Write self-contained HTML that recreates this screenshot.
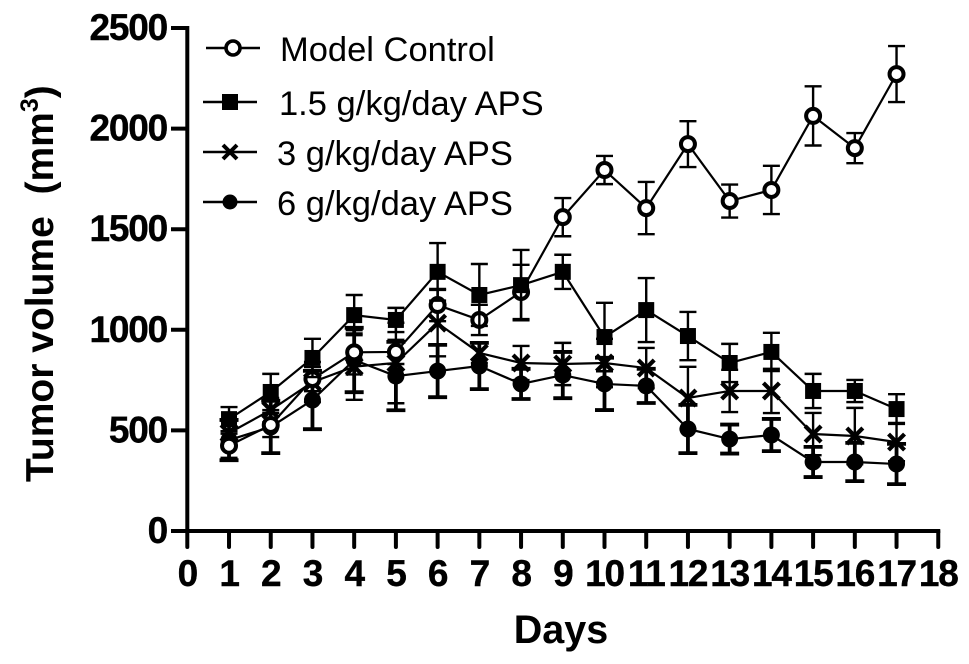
<!DOCTYPE html>
<html>
<head>
<meta charset="utf-8">
<title>Tumor volume chart</title>
<style>
html,body{margin:0;padding:0;background:#fff;width:969px;height:664px;overflow:hidden}
svg{display:block;font-family:"Liberation Sans",Arial,sans-serif}
.tick{font-weight:700;font-size:37px;letter-spacing:-1.2px;fill:#000;stroke:#000;stroke-width:.4px}
.leg{font-size:34.5px;fill:#000}
</style>
</head>
<body>
<svg id="chart" width="969" height="664" viewBox="0 0 969 664" xmlns="http://www.w3.org/2000/svg">
  <rect width="969" height="664" fill="#fff"/>
  <g id="axes"></g>
  <g id="series"></g>
  <text transform="translate(53,482) rotate(-90)" font-size="39" font-weight="700" xml:space="preserve">Tumor volume  (mm<tspan font-size="25" dy="-15">3</tspan><tspan dy="15">)</tspan></text>
  <text x="561" y="643" text-anchor="middle" font-size="39.5" font-weight="700">Days</text>
  <g stroke="#000" stroke-width="2.4">
    <g>
      <line x1="206" x2="260" y1="48" y2="48"/>
      <circle cx="233" cy="48" r="7" fill="#fff" stroke-width="3.6"/>
      <text class="leg" x="280" y="61" stroke="none">Model Control</text>
    </g>
    <g>
      <line x1="203" x2="257" y1="102" y2="102"/>
      <rect x="222" y="94" width="16" height="16" fill="#000" stroke="none"/>
      <text class="leg" x="279" y="115" stroke="none">1.5 g/kg/day APS</text>
    </g>
    <g>
      <line x1="203" x2="257" y1="152" y2="152"/>
      <path d="M223 145L237 159M237 145L223 159" fill="none" stroke-width="4"/>
      <text class="leg" x="277" y="165" stroke="none">3 g/kg/day APS</text>
    </g>
    <g>
      <line x1="203" x2="257" y1="202" y2="202"/>
      <circle cx="230" cy="202" r="7.5" fill="#000" stroke="none"/>
      <text class="leg" x="277" y="215" stroke="none">6 g/kg/day APS</text>
    </g>
  </g>
</svg>
<script>
const days = [1,2,3,4,5,6,7,8,9,10,11,12,13,14,15,16,17];
const xTicks = [0,1,2,3,4,5,6,7,8,9,10,11,12,13,14,15,16,17,18];
const yTicks = [0,500,1000,1500,2000,2500];
const modelValues = [424,527,755,888,890,1123,1049,1188,1560,1794,1605,1923,1640,1695,2063,1903,2271];
const modelErrors = [60,60,60,110,60,80,75,135,95,70,130,114,82,120,147,75,139];
const lowValues = [556,691,860,1073,1049,1288,1173,1222,1288,964,1098,969,835,890,696,696,606];
const lowErrors = [60,90,95,100,60,143,154,175,85,170,159,120,95,95,85,55,74];
const midValues = [487,601,740,817,835,1033,885,835,830,835,810,661,696,696,482,472,442];
const midErrors = [60,60,100,165,200,165,50,85,105,120,100,155,105,110,105,140,95];
const highValues = [452,517,651,850,770,795,820,731,775,731,721,507,457,477,343,343,333];
const highErrors = [100,130,145,160,170,130,115,75,115,130,85,120,72,80,75,95,100];

const NS = 'http://www.w3.org/2000/svg';
const xScale = d => 187.3 + d * 41.72;
const yScale = v => 531 - v * 0.2012;
function make(tag, parent, attrs) {
  const el = document.createElementNS(NS, tag);
  for (const k in attrs) el.setAttribute(k, attrs[k]);
  parent.appendChild(el);
  return el;
}
const axes = document.getElementById('axes');
const yAxisLine = make('line', axes, {x1: xScale(0), x2: xScale(0), y1: yScale(2500) - 2, y2: yScale(0) + 2, stroke: '#000', 'stroke-width': 4});


const xAxisLine = make('line', axes, {x1: xScale(0) - 2, x2: xScale(18) + 2, y1: yScale(0), y2: yScale(0), stroke: '#000', 'stroke-width': 4});


yTicks.forEach(t => {
  const m = make('line', axes, {x1: 171, x2: xScale(0), y1: yScale(t), y2: yScale(t), stroke: '#000', 'stroke-width': 4});
  
  
  const l = make('text', axes, {x: 167, y: yScale(t) + 12, 'text-anchor': 'end', class: 'tick'});
  
  
  l.textContent = t;
});
xTicks.forEach(t => {
  const m = make('line', axes, {x1: xScale(t), x2: xScale(t), y1: yScale(0), y2: 547, stroke: '#000', 'stroke-width': 4, 'stroke-linecap': 'round'});
  
  
  const l = make('text', axes, {x: xScale(t), y: 586, 'text-anchor': 'middle', class: 'tick'});
  
  
  l.textContent = t;
});

const seriesRoot = document.getElementById('series');
function drawSeries(name, values, errors, kind, capWidth, errWidth) {
  const g = make('g', seriesRoot, {});
  
  
  days.forEach((d, i) => {
    const x = xScale(d);
    const top = yScale(values[i] + errors[i]);
    const bot = yScale(values[i] - errors[i]);
    const e = make('path', g, {d: `M${x} ${top}V${bot}M${x - capWidth} ${top}H${x + capWidth}M${x - capWidth} ${bot}H${x + capWidth}`, fill: 'none', stroke: '#000', 'stroke-width': errWidth});
    
    
  });
  const pts = days.map((d, i) => xScale(d) + ',' + yScale(values[i])).join(' ');
  const line = make('polyline', g, {points: pts, fill: 'none', stroke: '#000', 'stroke-width': 2.2});
  
  
  days.forEach((d, i) => {
    const x = xScale(d), y = yScale(values[i]);
    let p;
    if (kind === 'open') p = make('circle', g, {cx: x, cy: y, r: 7, fill: '#fff', stroke: '#000', 'stroke-width': 4});
    if (kind === 'square') p = make('rect', g, {x: x - 8, y: y - 8, width: 16, height: 16, fill: '#000'});
    if (kind === 'cross') p = make('path', g, {d: `M${x - 8} ${y - 8}L${x + 8} ${y + 8}M${x + 8} ${y - 8}L${x - 8} ${y + 8}`, fill: 'none', stroke: '#000', 'stroke-width': 4.2});
    if (kind === 'dot') p = make('circle', g, {cx: x, cy: y, r: 8.5, fill: '#000'});
    
    
  });
}
drawSeries('series-6-g-kg-day-aps', highValues, highErrors, 'dot', 9.5, 3.8);
drawSeries('series-3-g-kg-day-aps', midValues, midErrors, 'cross', 8.5, 2.4);
drawSeries('series-model-control', modelValues, modelErrors, 'open', 8.5, 2.4);
drawSeries('series-1-5-g-kg-day-aps', lowValues, lowErrors, 'square', 8.5, 2.4);
</script>
</body>
</html>
